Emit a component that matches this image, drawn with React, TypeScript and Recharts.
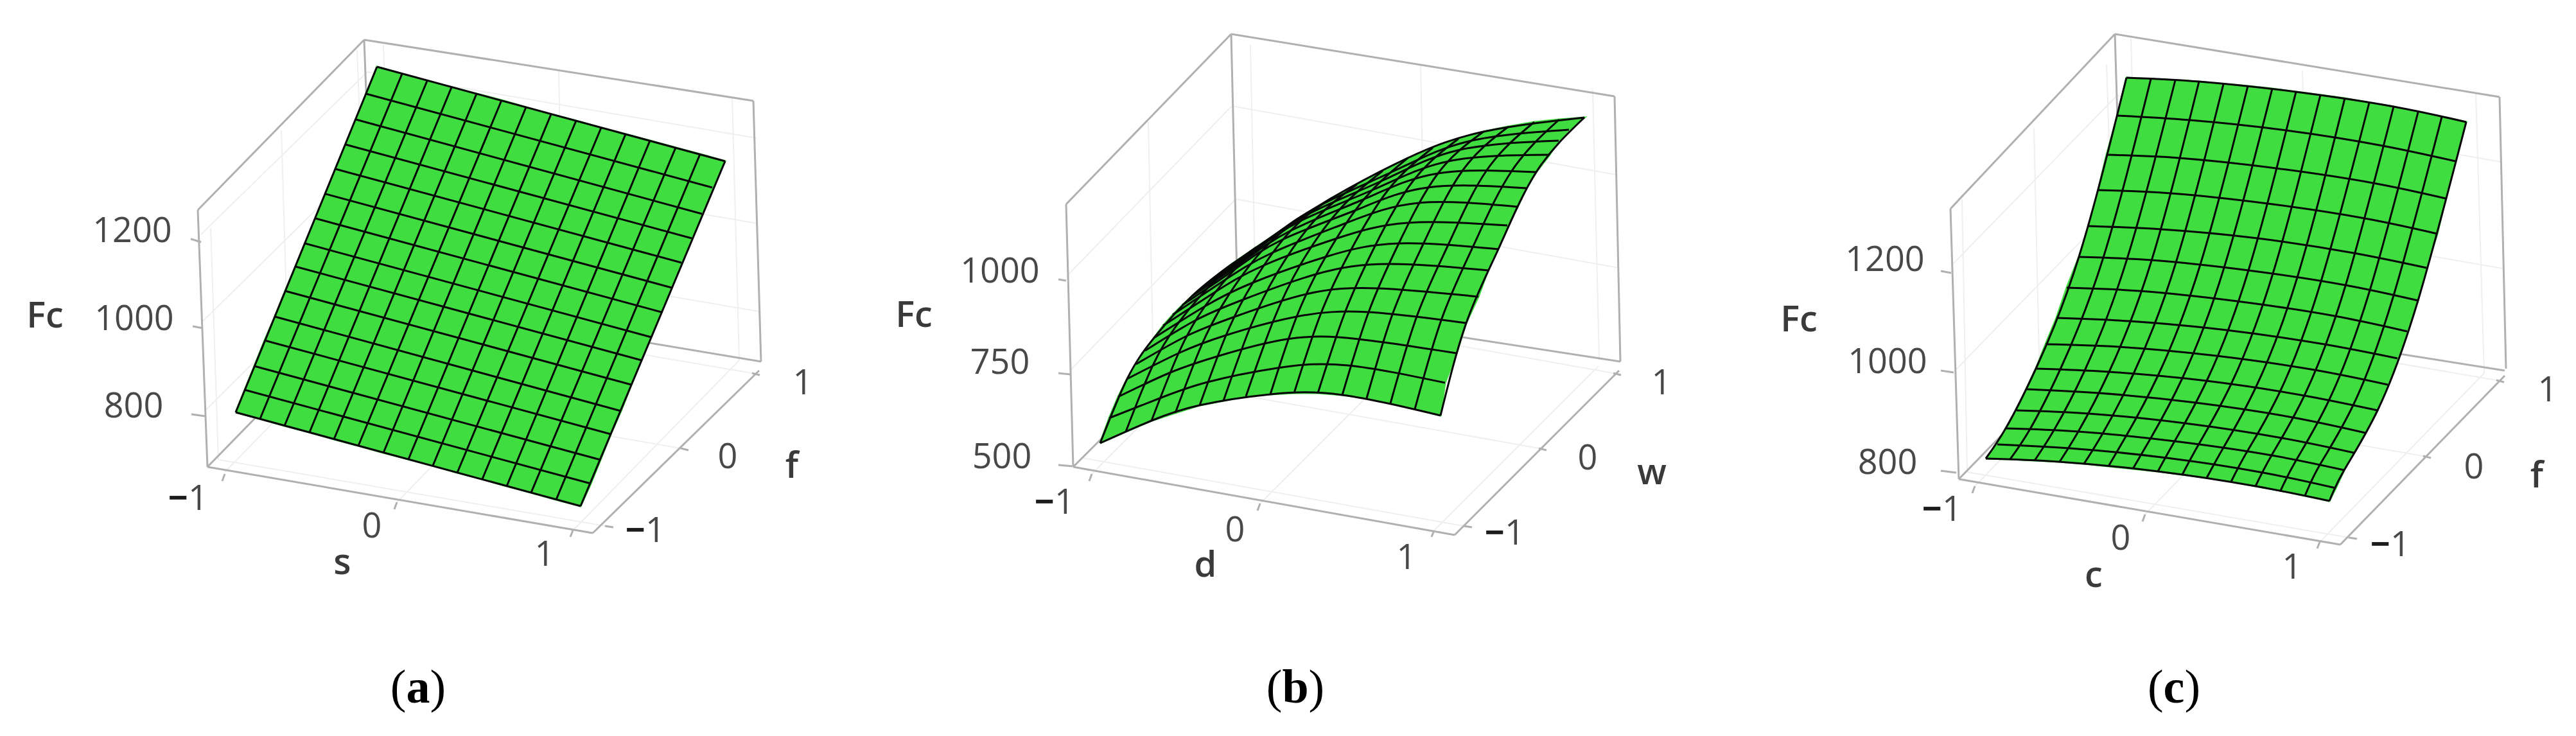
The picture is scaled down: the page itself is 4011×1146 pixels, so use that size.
import { ScatterChart, Scatter, XAxis, YAxis } from 'recharts';

// Values are read off the picture. Each surface is a 3D view, so a mesh line is a list of
// projected [x, y] readings and the axes of each chart run in picture units.
type Pt = [number, number];
type Seg = [number, number, number, number];
type Tag = [number, number, string];

// ---- panel (a) Fc over s, f
const rowsA: Pt[][] = [
  [[367, 642], [904, 788]],
  [[381, 607], [920, 753]],
  [[396, 570], [935, 716]],
  [[412, 530], [951, 676]],
  [[428, 493], [967, 640]],
  [[444, 453], [983, 599]],
  [[460, 415], [999, 561]],
  [[475, 379], [1014, 525]],
  [[491, 340], [1030, 486]],
  [[507, 302], [1046, 448]],
  [[522, 263], [1061, 409]],
  [[538, 225], [1077, 371]],
  [[554, 186], [1093, 333]],
  [[570, 146], [1109, 292]],
  [[587, 104], [1129, 251]],
];
const colsA: Pt[][] = [
  [[367, 642], [587, 104]],
  [[405, 652], [626, 115]],
  [[443, 663], [665, 126]],
  [[482, 673], [703, 136]],
  [[520, 684], [742, 146]],
  [[558, 694], [781, 156]],
  [[597, 705], [819, 167]],
  [[636, 715], [858, 178]],
  [[674, 725], [897, 188]],
  [[712, 736], [936, 199]],
  [[751, 746], [974, 209]],
  [[789, 757], [1012, 219]],
  [[827, 767], [1052, 230]],
  [[866, 778], [1090, 240]],
  [[904, 788], [1129, 251]],
];
const boxA: Seg[] = [
  [308, 327, 567, 62],
  [567, 62, 1173, 157],
  [308, 327, 323, 727],
  [323, 727, 923, 830],
  [923, 830, 1182, 577],
  [1173, 157, 1185, 563],
  [567, 62, 582, 462],
  [582, 462, 1185, 563],
  [323, 727, 582, 462],
];
const gridA: Seg[] = [
  [350, 735, 609, 470], [618, 782, 877, 517], [892, 826, 1151, 561],
  [942, 819, 342, 716], [1060, 698, 460, 595], [1171, 581, 571, 478],
  [313, 365, 572, 112], [316, 500, 575, 245], [319, 640, 578, 382],
  [572, 112, 1178, 215], [575, 245, 1180, 348], [578, 382, 1182, 485],
  [328, 355, 340, 716], [438, 203, 450, 595], [556, 78, 571, 478],
  [597, 70, 609, 470], [870, 108, 877, 517], [1140, 150, 1151, 561],
];
const ticksA: Seg[] = [
  [297, 372, 313, 377], [300, 508, 316, 511], [298, 645, 319, 648],
  [350, 738, 346, 749], [618, 782, 614, 793], [892, 826, 888, 836],
  [942, 819, 955, 821], [1060, 698, 1072, 701], [1171, 581, 1183, 584],
];
const numbersA: Tag[] = [
  [206, 356, '1200'], [209, 493, '1000'], [208, 629, '800'],
  [293, 773, '−1'], [579, 816, '0'], [848, 860, '1'],
  [1005, 823, '−1'], [1133, 708, '0'], [1250, 593, '1'],
];
const titlesA: Tag[] = [[70, 488, 'Fc'], [533, 872, 's'], [1233, 722, 'f']];

// ---- panel (b) Fc over d, w
const rowsB: Pt[][] = [
  [[1713, 690], [1793, 655], [1868, 631], [1978, 614], [2090, 615], [2243, 647]],
  [[1727, 651], [1806, 620], [1880, 595], [1989, 573], [2099, 569], [2250, 596]],
  [[1741, 618], [1820, 581], [1895, 555], [2004, 528], [2115, 528], [2268, 550]],
  [[1755, 590], [1835, 550], [1909, 522], [2019, 493], [2131, 486], [2283, 503]],
  [[1769, 567], [1848, 523], [1923, 493], [2034, 458], [2147, 449], [2302, 462]],
  [[1783, 546], [1861, 499], [1937, 466], [2049, 427], [2163, 411], [2317, 421]],
  [[1797, 526], [1876, 477], [1951, 440], [2064, 400], [2178, 379], [2333, 388]],
  [[1811, 507], [1890, 456], [1966, 414], [2079, 372], [2192, 347], [2347, 351]],
  [[1826, 490], [1904, 438], [1980, 394], [2094, 348], [2209, 316], [2363, 322]],
  [[1841, 475], [1919, 422], [1995, 374], [2109, 328], [2223, 292], [2377, 293]],
  [[1856, 461], [1934, 408], [2010, 359], [2124, 310], [2239, 270], [2392, 268]],
  [[1871, 448], [1949, 394], [2025, 344], [2139, 295], [2256, 251], [2413, 241]],
  [[1886, 436], [1964, 383], [2040, 332], [2153, 281], [2270, 234], [2427, 219]],
  [[1901, 424], [1979, 370], [2055, 320], [2171, 266], [2287, 220], [2443, 202]],
  [[1917, 412], [1996, 358], [2074, 308], [2192, 246], [2310, 205], [2467, 183]],
];
const colsB: Pt[][] = [
  [[1713, 690], [1755, 590], [1797, 526], [1856, 461], [1917, 412]],
  [[1753, 672], [1795, 569], [1837, 500], [1895, 434], [1956, 385]],
  [[1793, 655], [1835, 550], [1876, 477], [1934, 408], [1996, 358]],
  [[1830, 643], [1872, 535], [1914, 458], [1972, 383], [2035, 333]],
  [[1868, 631], [1909, 522], [1951, 440], [2010, 359], [2074, 308]],
  [[1905, 624], [1946, 511], [1989, 424], [2048, 342], [2113, 287]],
  [[1940, 617], [1982, 501], [2026, 410], [2086, 326], [2153, 266]],
  [[1978, 614], [2019, 493], [2064, 400], [2124, 310], [2192, 246]],
  [[2015, 612], [2056, 490], [2102, 392], [2162, 295], [2231, 230]],
  [[2052, 612], [2094, 487], [2140, 385], [2200, 282], [2271, 216]],
  [[2090, 615], [2131, 486], [2178, 379], [2239, 270], [2310, 205]],
  [[2128, 620], [2169, 487], [2217, 378], [2277, 266], [2349, 197]],
  [[2165, 628], [2207, 490], [2256, 379], [2315, 265], [2389, 190]],
  [[2203, 637], [2245, 496], [2294, 383], [2354, 266], [2428, 186]],
  [[2243, 647], [2283, 503], [2333, 388], [2392, 268], [2467, 183]],
];
const boxB: Seg[] = [
  [1660, 318, 1917, 53],
  [1917, 53, 2514, 150],
  [1660, 318, 1671, 727],
  [1671, 727, 2265, 833],
  [2265, 833, 2521, 577],
  [2514, 150, 2523, 563],
  [1917, 53, 1927, 471],
  [1927, 471, 2523, 563],
  [1671, 727, 1927, 471],
];
const gridB: Seg[] = [
  [1700, 738, 1956, 482], [1962, 784, 2218, 528], [2233, 826, 2489, 570],
  [2279, 819, 1685, 713], [2396, 698, 1802, 592], [2512, 581, 1918, 475],
  [1661, 430, 1918, 165], [1667, 576, 1924, 310],
  [1918, 165, 2516, 272], [1924, 310, 2520, 417],
  [1788, 190, 1796, 580], [1947, 70, 1955, 470], [2212, 100, 2220, 520], [2480, 140, 2490, 560],
];
const ticksB: Seg[] = [
  [1648, 435, 1660, 437], [1648, 581, 1667, 583], [1648, 724, 1670, 726],
  [1700, 738, 1696, 749], [1962, 784, 1958, 795], [2233, 826, 2229, 836],
  [2279, 819, 2292, 821], [2396, 698, 2408, 701], [2512, 581, 2524, 584],
];
const numbersB: Tag[] = [
  [1557, 419, '1000'], [1557, 561, '750'], [1560, 708, '500'],
  [1642, 779, '−1'], [1923, 822, '0'], [2190, 865, '1'],
  [2343, 827, '−1'], [2472, 710, '0'], [2587, 593, '1'],
];
const titlesB: Tag[] = [[1423, 487, 'Fc'], [1877, 876, 'd'], [2572, 732, 'w']];

// ---- panel (c) Fc over c, f
const rowsC: Pt[][] = [
  [[3092, 714], [3206, 719], [3360, 734], [3512, 757], [3627, 780]],
  [[3110, 692], [3223, 698], [3374, 713], [3524, 736], [3637, 760]],
  [[3123, 667], [3236, 672], [3386, 687], [3537, 709], [3650, 732]],
  [[3140, 639], [3252, 644], [3402, 659], [3553, 682], [3665, 705]],
  [[3155, 606], [3268, 612], [3419, 627], [3570, 650], [3683, 674]],
  [[3170, 574], [3284, 579], [3436, 593], [3588, 616], [3702, 639]],
  [[3185, 536], [3299, 540], [3451, 554], [3604, 576], [3718, 599]],
  [[3202, 495], [3316, 500], [3467, 514], [3619, 536], [3733, 558]],
  [[3218, 448], [3331, 453], [3483, 469], [3635, 492], [3748, 516]],
  [[3237, 400], [3350, 405], [3501, 421], [3652, 444], [3765, 468]],
  [[3252, 352], [3365, 357], [3515, 371], [3665, 394], [3778, 417]],
  [[3267, 296], [3380, 301], [3531, 317], [3682, 340], [3795, 364]],
  [[3280, 241], [3393, 246], [3544, 262], [3695, 285], [3808, 309]],
  [[3297, 180], [3410, 187], [3560, 203], [3710, 227], [3823, 251]],
  [[3311, 121], [3424, 127], [3575, 143], [3727, 166], [3840, 190]],
];
const colsC: Pt[][] = [
  [[3092, 714], [3123, 667], [3170, 574], [3237, 400], [3311, 121]],
  [[3130, 715], [3161, 668], [3208, 575], [3275, 401], [3349, 123]],
  [[3168, 717], [3198, 670], [3246, 577], [3312, 403], [3387, 125]],
  [[3207, 719], [3236, 672], [3284, 579], [3350, 406], [3424, 127]],
  [[3245, 722], [3274, 675], [3322, 582], [3388, 409], [3462, 131]],
  [[3283, 726], [3311, 678], [3360, 585], [3426, 412], [3500, 134]],
  [[3321, 730], [3349, 682], [3398, 589], [3463, 417], [3538, 138]],
  [[3360, 734], [3386, 687], [3436, 593], [3501, 421], [3575, 143]],
  [[3398, 739], [3424, 691], [3474, 598], [3539, 426], [3613, 148]],
  [[3436, 744], [3462, 697], [3512, 604], [3577, 432], [3651, 153]],
  [[3474, 750], [3499, 703], [3550, 610], [3614, 438], [3689, 160]],
  [[3512, 757], [3537, 709], [3588, 616], [3652, 445], [3727, 166]],
  [[3551, 764], [3575, 717], [3626, 624], [3690, 452], [3765, 175]],
  [[3589, 772], [3612, 724], [3664, 631], [3727, 460], [3802, 182]],
  [[3627, 780], [3650, 732], [3702, 639], [3765, 468], [3840, 190]],
];
const boxC: Seg[] = [
  [3037, 325, 3293, 53],
  [3293, 53, 3892, 151],
  [3037, 325, 3050, 746],
  [3050, 746, 3644, 848],
  [3644, 848, 3900, 585],
  [3892, 151, 3902, 574],
  [3293, 53, 3306, 483],
  [3306, 483, 3900, 577],
  [3050, 746, 3306, 483],
];
const gridC: Seg[] = [
  [3075, 757, 3331, 494], [3340, 801, 3596, 538], [3612, 844, 3868, 581],
  [3657, 837, 3063, 735], [3773, 710, 3179, 608], [3887, 592, 3293, 490],
  [3040, 412, 3296, 149], [3043, 578, 3299, 315],
  [3296, 149, 3894, 252], [3299, 315, 3897, 418],
  [3055, 310, 3063, 735], [3167, 200, 3176, 600], [3280, 100, 3293, 490],
  [3318, 60, 3331, 494], [3585, 110, 3596, 538], [3855, 145, 3868, 581],
];
const ticksC: Seg[] = [
  [3022, 422, 3038, 425], [3022, 577, 3042, 580], [3022, 733, 3046, 736],
  [3075, 757, 3071, 768], [3340, 801, 3336, 812], [3612, 844, 3608, 854],
  [3657, 837, 3670, 839], [3773, 710, 3785, 713], [3887, 592, 3899, 595],
];
const numbersC: Tag[] = [
  [2935, 401, '1200'], [2939, 560, '1000'], [2939, 717, '800'],
  [3024, 790, '−1'], [3302, 835, '0'], [3569, 880, '1'],
  [3722, 845, '−1'], [3852, 724, '0'], [3967, 604, '1'],
];
const titlesC: Tag[] = [[2801, 494, 'Fc'], [3260, 892, 'c'], [3950, 737, 'f']];

const BOX_COLOR = '#b0b0b0';
const GRID_COLOR = '#efefef';
const SURFACE_COLOR = '#40dd40';
const MESH_COLOR = '#060606';
const TEXT_COLOR = '#484848';
const PANEL_WIDTH = 1337;
const PANEL_HEIGHT = 1146;

const toPoints = (line: Pt[]) => line.map(([x, y]) => ({ x, y }));
const segPoints = ([x1, y1, x2, y2]: Seg) => [{ x: x1, y: y1 }, { x: x2, y: y2 }];
const noDot = () => null;

function NumberText({ cx, cy, payload }: any) {
  const negative = payload.text.startsWith('−');
  return (
    <text
      x={cx}
      y={cy}
      textAnchor="middle"
      dominantBaseline="central"
      fontFamily="'Open Sans', sans-serif"
      fontSize={54}
      fill={TEXT_COLOR}
    >
      {negative ? (
        <>
          <tspan fontWeight={700} fill="#1c1c1c">−</tspan>
          {payload.text.slice(1)}
        </>
      ) : (
        payload.text
      )}
    </text>
  );
}

function TitleText({ cx, cy, payload }: any) {
  return (
    <text
      x={cx}
      y={cy}
      textAnchor="middle"
      dominantBaseline="central"
      fontFamily="'Open Sans', sans-serif"
      fontSize={56}
      fontWeight={600}
      fill="#3a3a3a"
    >
      {payload.text}
    </text>
  );
}

function CaptionText({ cx, cy, payload }: any) {
  return (
    <text
      x={cx}
      y={cy}
      textAnchor="middle"
      dominantBaseline="central"
      fontFamily="'Liberation Serif', serif"
      fontSize={74}
      fill="#000000"
    >
      (<tspan fontWeight={700}>{payload.text}</tspan>)
    </text>
  );
}

function Panel({ index, rows, cols, box, grid, ticks, numbers, titles, caption }: {
  index: number;
  rows: Pt[][];
  cols: Pt[][];
  box: Seg[];
  grid: Seg[];
  ticks: Seg[];
  numbers: Tag[];
  titles: Tag[];
  caption: Tag;
}) {
  const left = index * PANEL_WIDTH;
  const outline = toPoints([
    ...rows.map((r) => r[0]),
    ...cols.map((c) => c[c.length - 1]),
    ...rows.map((r) => r[r.length - 1]).reverse(),
    ...cols.map((c) => c[0]).reverse(),
  ]);

  return (
    <div style={{ position: 'absolute', left, top: 0 }}>
      <ScatterChart
        width={PANEL_WIDTH}
        height={PANEL_HEIGHT}
        margin={{ top: 0, right: 0, bottom: 0, left: 0 }}
      >
        <XAxis type="number" dataKey="x" domain={[left, left + PANEL_WIDTH]} allowDataOverflow hide />
        <YAxis type="number" dataKey="y" domain={[0, PANEL_HEIGHT]} reversed allowDataOverflow hide />
        {grid.map((s, i) => (
          <Scatter
            key={`grid${i}`}
            data={segPoints(s)}
            shape={noDot}
            line={{ stroke: GRID_COLOR, strokeWidth: 2 }}
            isAnimationActive={false}
          />
        ))}
        {[...box, ...ticks].map((s, i) => (
          <Scatter
            key={`box${i}`}
            data={segPoints(s)}
            shape={noDot}
            line={{ stroke: BOX_COLOR, strokeWidth: 3 }}
            isAnimationActive={false}
          />
        ))}
        <Scatter
          data={outline}
          shape={noDot}
          line={{ fill: SURFACE_COLOR, stroke: SURFACE_COLOR, strokeWidth: 3 }}
          isAnimationActive={false}
        />
        {[...rows, ...cols].map((line, i) => (
          <Scatter
            key={`mesh${i}`}
            data={toPoints(line)}
            shape={noDot}
            line={{ stroke: MESH_COLOR, strokeWidth: 3 }}
            lineJointType="natural"
            isAnimationActive={false}
          />
        ))}
        <Scatter
          data={numbers.map(([x, y, text]) => ({ x, y, text }))}
          shape={NumberText}
          isAnimationActive={false}
        />
        <Scatter
          data={titles.map(([x, y, text]) => ({ x, y, text }))}
          shape={TitleText}
          isAnimationActive={false}
        />
        <Scatter
          data={[{ x: caption[0], y: caption[1], text: caption[2] }]}
          shape={CaptionText}
          isAnimationActive={false}
        />
      </ScatterChart>
    </div>
  );
}

export default function App() {
  return (
    <div style={{ position: 'absolute', left: 0, top: 0, width: 4011, height: 1146, background: '#ffffff', overflow: 'hidden' }}>
      <Panel index={0} rows={rowsA} cols={colsA} box={boxA} grid={gridA} ticks={ticksA} numbers={numbersA} titles={titlesA} caption={[651, 1069, 'a']} />
      <Panel index={1} rows={rowsB} cols={colsB} box={boxB} grid={gridB} ticks={ticksB} numbers={numbersB} titles={titlesB} caption={[2017, 1069, 'b']} />
      <Panel index={2} rows={rowsC} cols={colsC} box={boxC} grid={gridC} ticks={ticksC} numbers={numbersC} titles={titlesC} caption={[3385, 1069, 'c']} />
    </div>
  );
}
